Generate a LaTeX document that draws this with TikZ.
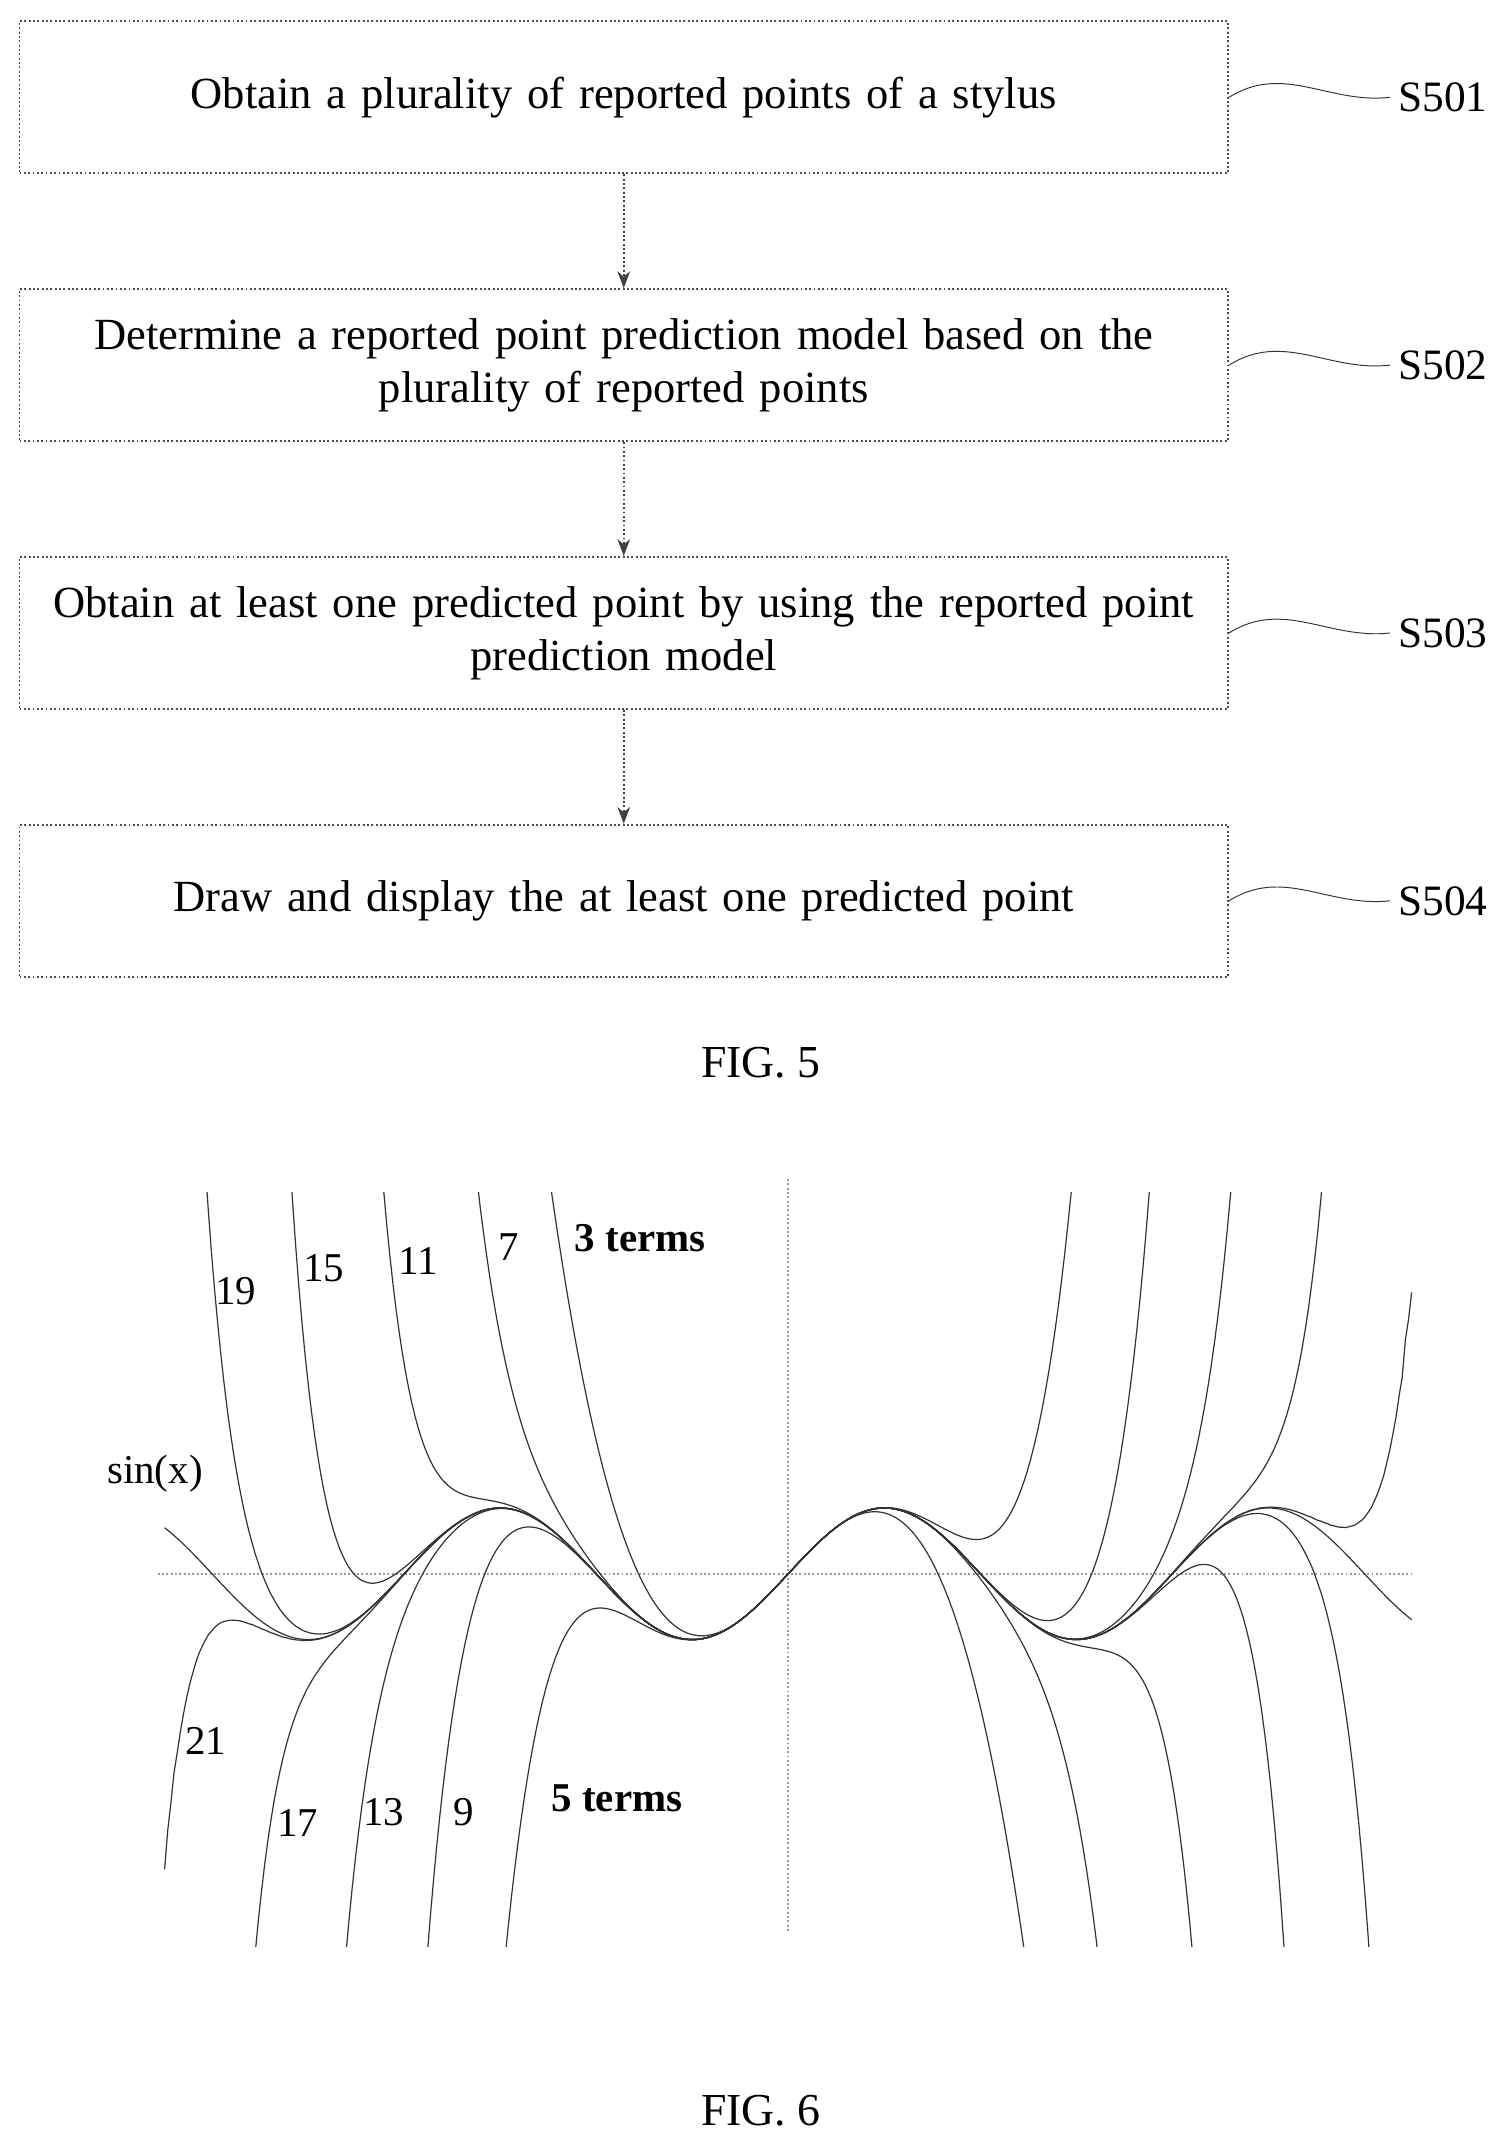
\documentclass[tikz,border=0pt]{standalone}
\usepackage{fontspec}
\setmainfont{Liberation Serif}
\usetikzlibrary{positioning,arrows.meta}
\usepgflibrary{fpu}
\newcommand\setpoly[1]{\gdef\polyexpr{1}\foreach \k in {#1,...,1}{\pgfmathtruncatemacro\dd{2*\k*(2*\k+1)}\xdef\polyexpr{(1-\noexpand\xx*\noexpand\xx/\dd*\unexpanded\expandafter{\polyexpr})}}}
\pgfmathdeclarefunction{taylorsin}{1}{%
  \begingroup
  \def\xx{#1}%
  \pgfkeys{/pgf/fpu=true,/pgf/fpu/output format=fixed}%
  \pgfmathparse{max(-7,min(7,\xx*\polyexpr))}%
  \pgfmathsmuggle\pgfmathresult
  \endgroup}
\begin{document}
\begin{tikzpicture}[x=0.02cm,y=0.02cm,
			node distance=1.66cm,
			box/.style={rectangle, draw=black!70, densely dotted, thick, minimum width=17.6cm, minimum height=2.22cm, align=center, text width=17.4cm, font=\fontsize{18.5}{22}\selectfont},
			arrow/.style={-{Stealth[length=7pt]}, thick, black!75, densely dotted},
			steplbl/.style={font=\fontsize{18}{21}\selectfont},
			wave/.style={black!80},
			axis/.style={black!40, densely dotted, thick},
			curve/.style={black!80, line width=0.5pt},
			lbl/.style={font=\fontsize{17}{20}\selectfont}
		]
		\useasboundingbox (0,0) rectangle (1100,-1572);
		\node[box] (b1) at (455,-71) {Obtain a plurality of reported points of a stylus};
		\node[box, below=of b1] (b2) {Determine a reported point prediction model based on the\\plurality of reported points};
		\node[box, below=of b2] (b3) {Obtain at least one predicted point by using the reported point\\prediction model};
		\node[box, below=of b3] (b4) {Draw and display the at least one predicted point};

		\foreach \i in {1,...,4}{
			\node[steplbl, right=2.35cm of b\i.east] (s\i) {S50\i};
			\draw[wave] (b\i.east) .. controls +(40,25) and +(-45,-5) .. (s\i.west);
		}
		\foreach \i/\j in {1/2,2/3,3/4}
			\draw[arrow] (b\i) -- (b\j);

		\node[font=\fontsize{19}{22}\selectfont] (fig5) at (555,-775) {FIG. 5};

		% FIG. 6
		\draw[axis] (575,-860) -- (575,-1410);
		\draw[axis] (115,-1148) -- (1030,-1148);
		\begin{scope}
			\clip (115,-870) rectangle (1030,-1420);
			\begin{scope}[shift={(575,-1148)}]
				\draw[curve, samples=300, domain=-10.2:10.2] plot ({44.6*\x},{48*sin(\x r)});
				\foreach \n in {1,...,10}{
					\setpoly{\n}
					\draw[curve, samples=400, domain=-10.2:10.2] plot ({44.6*\x},{48*taylorsin(\x)});
				}
			\end{scope}
		\end{scope}

		\node[lbl, font=\fontsize{17}{20}\selectfont\bfseries] (t3) at (467,-903) {3 terms};
		\node[lbl, font=\fontsize{17}{20}\selectfont\bfseries] (t5) at (450,-1312) {5 terms};
		\node[lbl] (n7) at (371,-910) {7};
		\node[lbl] (n11) at (305,-920) {11};
		\node[lbl] (n15) at (236,-925) {15};
		\node[lbl] (n19) at (172,-942) {19};
		\node[lbl] (sx) at (113,-1075) {sin(x)};
		\node[lbl] (n21) at (150,-1270) {21};
		\node[lbl] (n17) at (217,-1330) {17};
		\node[lbl] (n13) at (280,-1322) {13};
		\node[lbl] (n9) at (338,-1322) {9};

		\node[font=\fontsize{19}{22}\selectfont] (fig6) at (555,-1540) {FIG. 6};
	\end{tikzpicture}
\end{document}
